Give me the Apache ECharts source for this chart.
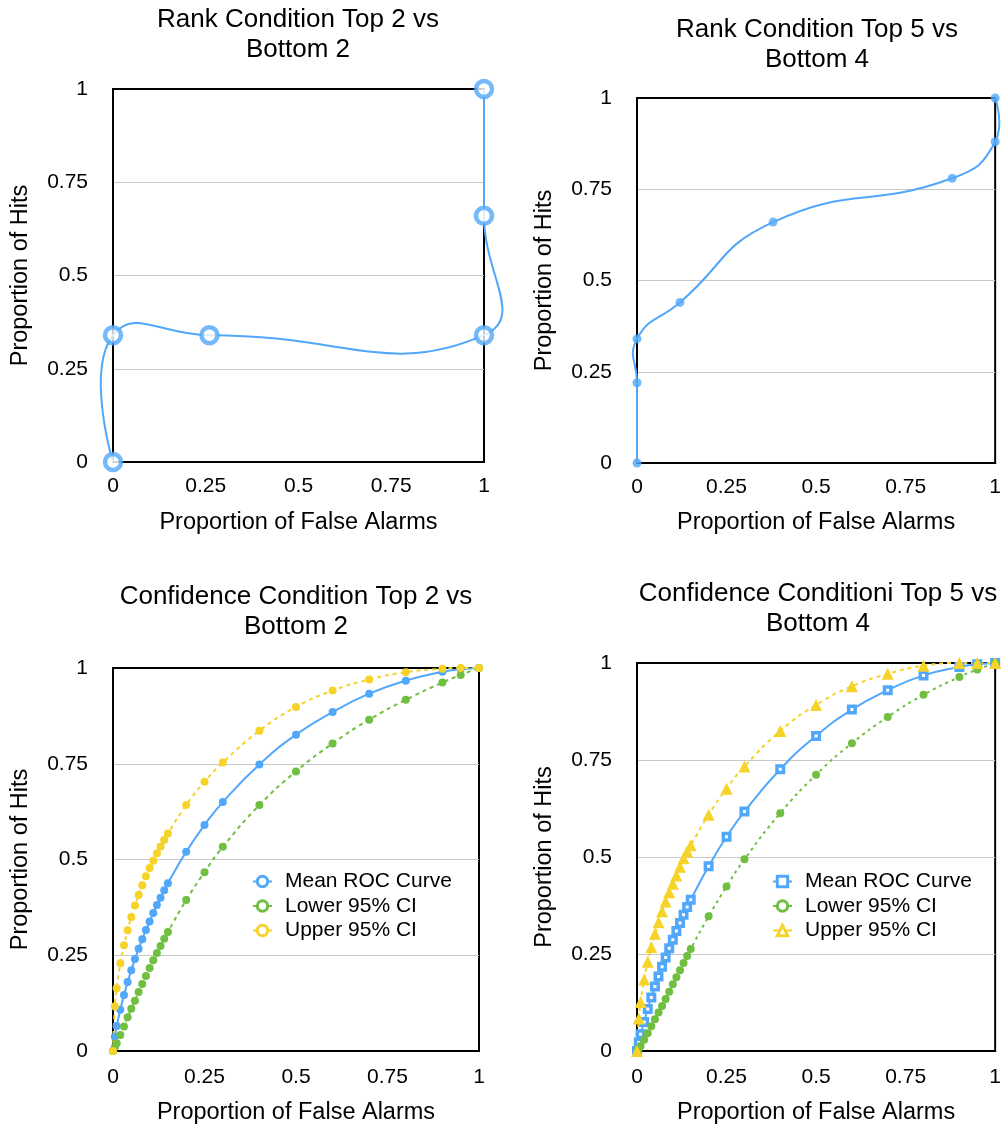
<!DOCTYPE html>
<html>
<head>
<meta charset="utf-8">
<script src="https://cdn.jsdelivr.net/npm/echarts@6/dist/echarts.min.js"></script>
<style>
  html, body { margin: 0; padding: 0; background: #fff; }
  #chart { width: 1004px; height: 1128px; }
</style>
</head>
<body>
<div id="chart"></div>
<script>
// ---- Rank condition, top 2 vs bottom 2 ----
const rank2FalseAlarms = [0, 0, 0.26, 1, 1, 1];
const rank2Hits        = [0, 0.34, 0.34, 0.34, 0.66, 1];

// ---- Rank condition, top 5 vs bottom 4 ----
const rank5FalseAlarms = [0, 0, 0, 0.12, 0.38, 0.88, 1, 1];
const rank5Hits        = [0, 0.22, 0.34, 0.44, 0.66, 0.78, 0.88, 1];

// ---- Confidence conditions: shared false-alarm criteria ----
const confFalseAlarms = [0, 0.005, 0.01, 0.02, 0.03, 0.04, 0.05, 0.06, 0.07, 0.08, 0.09, 0.10,
  0.11, 0.12, 0.13, 0.14, 0.15, 0.2, 0.25, 0.3, 0.4, 0.5, 0.6, 0.7, 0.8, 0.9, 0.95, 1];

// Confidence condition, top 2 vs bottom 2
const conf2Mean  = [0, 0.037, 0.065, 0.108, 0.146, 0.18, 0.211, 0.24, 0.267, 0.292, 0.316, 0.338,
  0.36, 0.381, 0.40, 0.42, 0.438, 0.52, 0.59, 0.65, 0.748, 0.826, 0.885, 0.933, 0.967, 0.99, 0.997, 1];
const conf2Lower = [0, 0.01, 0.02, 0.042, 0.064, 0.088, 0.11, 0.131, 0.154, 0.175, 0.196, 0.217,
  0.237, 0.256, 0.274, 0.293, 0.311, 0.394, 0.467, 0.533, 0.642, 0.73, 0.803, 0.865, 0.917, 0.962, 0.982, 1];
const conf2Upper = [0, 0.117, 0.164, 0.229, 0.276, 0.315, 0.35, 0.38, 0.407, 0.433, 0.456, 0.478,
  0.497, 0.516, 0.534, 0.551, 0.568, 0.642, 0.703, 0.753, 0.836, 0.898, 0.941, 0.97, 0.989, 0.998, 1, 1];

// Confidence condition, top 5 vs bottom 4
const conf5Mean  = [0, 0.022, 0.043, 0.075, 0.108, 0.138, 0.166, 0.192, 0.217, 0.241, 0.265, 0.287,
  0.309, 0.33, 0.351, 0.371, 0.39, 0.476, 0.552, 0.617, 0.726, 0.812, 0.88, 0.93, 0.968, 0.99, 0.997, 1];
const conf5Lower = [0, 0.006, 0.013, 0.029, 0.046, 0.064, 0.082, 0.099, 0.116, 0.134, 0.153, 0.172,
  0.19, 0.208, 0.227, 0.245, 0.263, 0.347, 0.424, 0.494, 0.613, 0.712, 0.793, 0.861, 0.918, 0.964, 0.983, 1];
const conf5Upper = [0, 0.084, 0.126, 0.184, 0.23, 0.268, 0.302, 0.332, 0.36, 0.385, 0.409, 0.431,
  0.452, 0.475, 0.497, 0.514, 0.53, 0.609, 0.676, 0.733, 0.825, 0.892, 0.94, 0.972, 0.993, 1, 1, 1];

// Axis ticks and text
const axisTicks = [0, 0.25, 0.5, 0.75, 1];
const panelTitles = [
  'Rank Condition Top 2 vs\nBottom 2',
  'Rank Condition Top 5 vs\nBottom 4',
  'Confidence Condition Top 2 vs\nBottom 2',
  'Confidence Conditioni Top 5 vs\nBottom 4'
];
const xAxisTitle = 'Proportion of False Alarms';
const yAxisTitle = 'Proportion of Hits';
const legendNames = ['Mean ROC Curve', 'Lower 95% CI', 'Upper 95% CI'];
const PANEL4_SUFFIX = ' \u00b7 Top 5';

// ---- styling ----
const FONT = '"Liberation Sans", Arial, Helvetica, sans-serif';
const BLUE = '#51A7F9', GREEN = '#70BF41', YELLOW = '#F5D328';

const panels = [
  { left: 113, top: 89,  width: 371, height: 373, xGap: 49, labelMargin: 14, titleX: 298, titleY: 5 },
  { left: 637, top: 98,  width: 361, height: 365, xGap: 48, labelMargin: 14, titleX: 817, titleY: 15 },
  { left: 113, top: 668, width: 366, height: 383, xGap: 50, labelMargin: 16, titleX: 296, titleY: 582 },
  { left: 637, top: 663, width: 361, height: 388, xGap: 50, labelMargin: 16, titleX: 818, titleY: 579 }
];

function pairs(xs, ys) { return xs.map((x, i) => [x, ys[i]]); }

const labelStyle = { color: '#000', fontSize: 21, fontFamily: FONT };
const nameStyle = { color: '#000', fontSize: 23.5, fontFamily: FONT };

const grid = panels.map(p => ({
  left: p.left, top: p.top, width: p.width, height: p.height,
  show: true, borderColor: '#000', borderWidth: 2, containLabel: false
}));

const xAxis = panels.map((p, i) => ({
  gridIndex: i, type: 'value', min: axisTicks[0], max: axisTicks[axisTicks.length - 1],
  interval: axisTicks[1] - axisTicks[0],
  axisLine: { show: true, onZero: false, lineStyle: { color: '#000', width: 2 } },
  axisTick: { show: false },
  splitLine: { show: false },
  axisLabel: Object.assign({ margin: p.labelMargin }, labelStyle),
  name: xAxisTitle, nameLocation: 'middle', nameGap: p.xGap, nameTextStyle: nameStyle
}));

const yAxis = panels.map((p, i) => ({
  gridIndex: i, type: 'value', min: axisTicks[0], max: axisTicks[axisTicks.length - 1],
  interval: axisTicks[1] - axisTicks[0],
  axisLine: { show: true, onZero: false, lineStyle: { color: '#000', width: 2 } },
  axisTick: { show: false },
  splitLine: { show: true, showMinLine: false, showMaxLine: false, lineStyle: { color: '#c8c8c8', width: 1 } },
  axisLabel: Object.assign({ margin: 25 }, labelStyle),
  name: yAxisTitle, nameLocation: 'middle', nameGap: 80, nameTextStyle: nameStyle
}));

// Free-flowing spline through the points (tangents may overshoot the
// neighbouring points, unlike the built-in clamped smoothing).
function splineRenderer(xs, ys, color, tension) {
  return function (params, api) {
    const n = xs.length;
    const i = params.dataIndex;
    if (i >= n - 1) return null;
    const P = k => api.coord([xs[k], ys[k]]);
    function ctrl(k) {
      const p = P(k);
      if (k === 0 || k === n - 1) return { cin: p, cout: p };
      const a = P(k - 1), b = P(k + 1);
      const vx = b[0] - a[0], vy = b[1] - a[1];
      const lp = Math.hypot(p[0] - a[0], p[1] - a[1]);
      const ln = Math.hypot(b[0] - p[0], b[1] - p[1]);
      const r = (lp + ln) > 0 ? ln / (lp + ln) : 0.5;
      return {
        cin: [p[0] - vx * tension * (1 - r), p[1] - vy * tension * (1 - r)],
        cout: [p[0] + vx * tension * r, p[1] + vy * tension * r]
      };
    }
    const p0 = P(i), p1 = P(i + 1);
    const c0 = ctrl(i).cout, c1 = ctrl(i + 1).cin;
    return {
      type: 'bezierCurve',
      shape: { x1: p0[0], y1: p0[1], cpx1: c0[0], cpy1: c0[1], cpx2: c1[0], cpy2: c1[1], x2: p1[0], y2: p1[1] },
      style: { stroke: color, lineWidth: 2, fill: 'none' }
    };
  };
}

function curveSeries(name, idx, xs, ys, color) {
  return {
    name: name, type: 'custom', coordinateSystem: 'cartesian2d',
    xAxisIndex: idx, yAxisIndex: idx, clip: false, silent: true,
    data: pairs(xs, ys), renderItem: splineRenderer(xs, ys, color, 0.5)
  };
}

function markerSeries(name, idx, xs, ys, opts) {
  return Object.assign({
    name: name, type: 'scatter', xAxisIndex: idx, yAxisIndex: idx,
    data: pairs(xs, ys), clip: false, z: 3
  }, opts);
}

function rocSeries(name, idx, xs, ys, color, opts) {
  return Object.assign({
    name: name, type: 'line', xAxisIndex: idx, yAxisIndex: idx,
    data: pairs(xs, ys), smooth: true, clip: false,
    symbol: 'circle', symbolSize: 8,
    lineStyle: { color: color, width: 2 },
    itemStyle: { color: color, borderColor: color, borderWidth: 0 }
  }, opts || {});
}

const series = [
  curveSeries('Rank Top 2 vs Bottom 2', 0, rank2FalseAlarms, rank2Hits, BLUE),
  markerSeries('Rank Top 2 vs Bottom 2', 0, rank2FalseAlarms, rank2Hits, {
    symbol: 'circle', symbolSize: 16,
    itemStyle: { color: '#fff', borderColor: BLUE, borderWidth: 4.5 }
  }),
  curveSeries('Rank Top 5 vs Bottom 4', 1, rank5FalseAlarms, rank5Hits, BLUE),
  markerSeries('Rank Top 5 vs Bottom 4', 1, rank5FalseAlarms, rank5Hits, {
    symbol: 'circle', symbolSize: 9, itemStyle: { color: BLUE }
  }),

  rocSeries(legendNames[0], 2, confFalseAlarms, conf2Mean, BLUE),
  rocSeries(legendNames[1], 2, confFalseAlarms, conf2Lower, GREEN, {
    lineStyle: { color: GREEN, width: 2, type: [4, 4] }
  }),
  rocSeries(legendNames[2], 2, confFalseAlarms, conf2Upper, YELLOW, {
    lineStyle: { color: YELLOW, width: 2, type: [4, 4] }
  }),

  rocSeries(legendNames[0] + PANEL4_SUFFIX, 3, confFalseAlarms, conf5Mean, BLUE, {
    symbol: 'rect', symbolSize: 6.5,
    itemStyle: { color: '#fff', borderColor: BLUE, borderWidth: 3.5 }
  }),
  rocSeries(legendNames[1] + PANEL4_SUFFIX, 3, confFalseAlarms, conf5Lower, GREEN, {
    lineStyle: { color: GREEN, width: 2, type: [3, 4] }
  }),
  rocSeries(legendNames[2] + PANEL4_SUFFIX, 3, confFalseAlarms, conf5Upper, YELLOW, {
    symbol: 'triangle', symbolSize: 12,
    lineStyle: { color: YELLOW, width: 2, type: [4, 4] }
  })
];

const legendCommon = {
  orient: 'vertical', itemWidth: 19, itemHeight: 13, itemGap: 3.5,
  selectedMode: false,
  itemStyle: { color: '#fff', borderColor: 'inherit', borderWidth: 3 },
  lineStyle: { type: 'solid', width: 2 },
  textStyle: { color: '#000', fontSize: 21, fontFamily: FONT, lineHeight: 21, padding: [0, 0, 0, 8] }
};

const legend = [
  Object.assign({}, legendCommon, { left: 247, top: 866, data: legendNames.slice() }),
  Object.assign({}, legendCommon, {
    left: 767, top: 866,
    data: legendNames.map(n => n + PANEL4_SUFFIX),
    formatter: n => n.replace(PANEL4_SUFFIX, '')
  })
];

const graphic = panels.map((p, i) => ({
  type: 'text', x: p.titleX, y: p.titleY, silent: true,
  style: {
    text: panelTitles[i], fill: '#000',
    font: '26px ' + FONT, lineHeight: 30,
    align: 'center', textAlign: 'center', verticalAlign: 'top', textVerticalAlign: 'top'
  }
}));

const chart = echarts.init(document.getElementById('chart'), null, { renderer: 'canvas' });
chart.setOption({
  animation: false,
  backgroundColor: '#fff',
  grid: grid, xAxis: xAxis, yAxis: yAxis,
  legend: legend, series: series, graphic: graphic
});
</script>
</body>
</html>
